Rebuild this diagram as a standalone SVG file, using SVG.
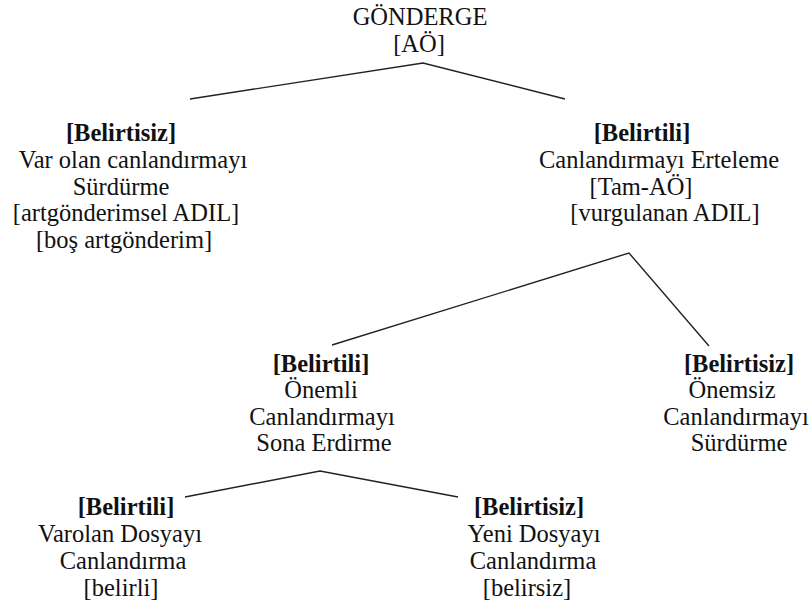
<svg xmlns="http://www.w3.org/2000/svg" width="809" height="614" viewBox="0 0 809 614">
<style>
text{font-size:24.5px;fill:#111;text-anchor:middle}
.b{font-weight:bold}
.ln{stroke:#222;stroke-width:1.4;fill:none}
</style>
<rect width="809" height="614" fill="#fff"/>
<g id="connectors">
<polyline class="ln" points="190,99 423,63 565,99"/>
<polyline class="ln" points="332,345 629,253 709,346"/>
<polyline class="ln" points="185,497 320,471 458,497"/>
</g>
<g font-family="'Liberation Serif', 'DejaVu Serif', serif">
<g id="root">
<text x="420" y="25">GÖNDERGE</text>
<text x="419" y="52">[AÖ]</text>
</g>
<g id="belirtisiz1">
<text class="b" x="121" y="141">[Belirtisiz]</text>
<text x="133" y="168">Var olan canlandırmayı</text>
<text x="121" y="195">Sürdürme</text>
<text x="126" y="221">[artgönderimsel ADIL]</text>
<text x="124" y="248">[boş artgönderim]</text>
</g>
<g id="belirtili1">
<text class="b" x="642" y="141">[Belirtili]</text>
<text x="659" y="168">Canlandırmayı Erteleme</text>
<text x="641" y="195">[Tam-AÖ]</text>
<text x="665" y="221">[vurgulanan ADIL]</text>
</g>
<g id="belirtili2">
<text class="b" x="321" y="372">[Belirtili]</text>
<text x="321" y="398">Önemli</text>
<text x="322" y="425">Canlandırmayı</text>
<text x="324" y="451">Sona Erdirme</text>
</g>
<g id="belirtisiz2">
<text class="b" x="739" y="372">[Belirtisiz]</text>
<text x="732" y="398">Önemsiz</text>
<text x="736" y="425">Canlandırmayı</text>
<text x="739" y="451">Sürdürme</text>
</g>
<g id="belirtili3">
<text class="b" x="126" y="515">[Belirtili]</text>
<text x="120" y="542">Varolan Dosyayı</text>
<text x="123" y="569">Canlandırma</text>
<text x="121" y="596">[belirli]</text>
</g>
<g id="belirtisiz3">
<text class="b" x="529" y="515">[Belirtisiz]</text>
<text x="534" y="542">Yeni Dosyayı</text>
<text x="533" y="569">Canlandırma</text>
<text x="527" y="596">[belirsiz]</text>
</g>
</g>
</svg>
